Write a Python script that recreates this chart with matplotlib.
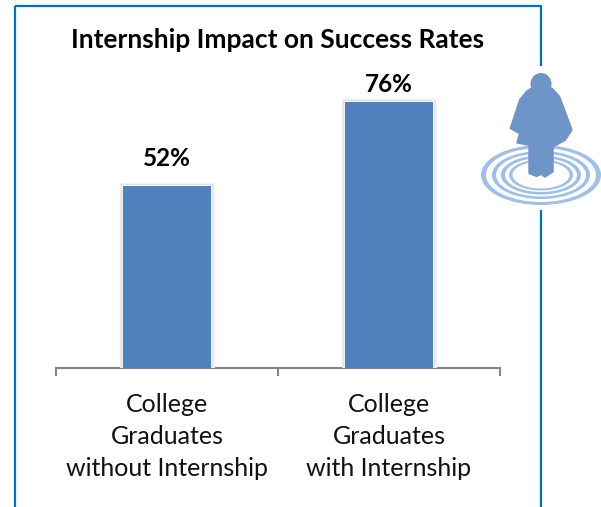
import matplotlib
matplotlib.use("Agg")
import matplotlib.pyplot as plt
import matplotlib.patheffects as pe
from matplotlib.patches import Ellipse, Polygon

categories = ['College\nGraduates\nwithout Internship', 'College\nGraduates\nwith Internship']
values = [52, 76]
title = 'Internship Impact on Success Rates'

W, H = 601, 507
plt.rcParams['font.family'] = ['Lato', 'DejaVu Sans']

fig = plt.figure(figsize=(W / 100, H / 100), dpi=100)

# chart area, placed in pixels
ax = fig.add_axes([56 / W, (H - 368) / H, 444 / W, 280 / H])
ax.set_xlim(-0.5, 1.5)
ax.set_ylim(0, 80)

bars = ax.bar(range(len(values)), values, width=0.4, color='#4F81BD', zorder=3)
for b in bars:
    b.set_path_effects([pe.withStroke(linewidth=5, foreground='#f0f0f0'),
                        pe.withStroke(linewidth=3, foreground='#e2e2e2'),
                        pe.withStroke(linewidth=1.2, foreground='#f8f8f8'),
                        pe.Normal()])

# labels do not sit at the same distance from their bars
label_gap = [8, 5.1]
for i, v in enumerate(values):
    ax.text(i, v + label_gap[i], f'{v}%', ha='center', va='center', fontsize=17.5, weight='bold', color='black')

for s in ['top', 'left', 'right']:
    ax.spines[s].set_visible(False)
ax.spines['bottom'].set_color('#868686')
ax.spines['bottom'].set_linewidth(1.5)
ax.set_yticks([])
ax.set_xticks([-0.5, 0.5, 1.5])
ax.set_xticklabels([])
ax.tick_params(axis='x', which='major', length=6, width=1.5, color='#868686')
ax.set_xticks([0, 1], minor=True)
ax.set_xticklabels(categories, minor=True, fontsize=18, color='#111111', linespacing=1.48)
ax.tick_params(axis='x', which='minor', length=0, pad=18)

fig.text(277.5 / W, 1 - 40 / H, title, ha='center', va='center', fontsize=19, weight='bold', color='black')

# overlay in pixel coords for the frame and the icon
ov = fig.add_axes([0, 0, 1, 1], zorder=5)
ov.set_xlim(0, W)
ov.set_ylim(H, 0)
ov.axis('off')

frame = '#0070C0'
ov.plot([14.5, 14.5], [H, 6], color=frame, lw=1.6, solid_capstyle='butt')
ov.plot([14.5, 541, 541], [6, 6, 66], color=frame, lw=1.6, solid_capstyle='butt')
ov.plot([541, 541], [210, H], color=frame, lw=1.6, solid_capstyle='butt')

# target rings
ring = '#9DBFE8'
for rx, ry, c in [(60, 30, ring), (55, 27, 'white'), (49, 24, ring), (45, 21.5, 'white'),
                  (40, 19.5, ring), (36, 17, 'white'), (32, 15.5, ring), (28.5, 13.5, 'white')]:
    ov.add_patch(Ellipse((541, 175), 2 * rx, 2 * ry, fc=c, ec='none'))

# person
zoom_pts = [(185, 115), (245, 115), (268, 140), (305, 240), (285, 270), (248, 290), (248, 365),
            (225, 380), (213, 372), (200, 378), (178, 370), (178, 285), (142, 278), (150, 250),
            (122, 235), (150, 150), (170, 125)]
person = '#6F94C8'
ov.add_patch(Polygon([(470 + x / 3, 50 + y / 3) for x, y in zoom_pts], fc=person, ec=person, lw=1.5, joinstyle='round'))
ov.add_patch(Ellipse((541, 84), 21, 22, fc=person, ec='none'))

fig.savefig('out.png', dpi=100)
